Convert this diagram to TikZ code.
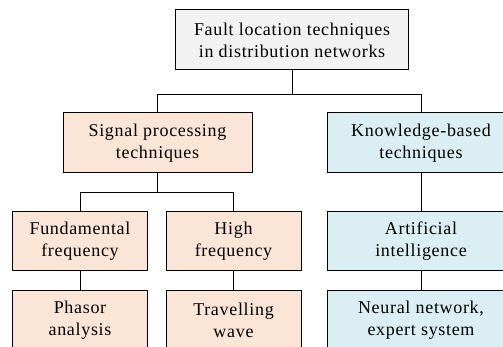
\documentclass[tikz,border=0pt]{standalone}
\usepackage{fontspec}
\setmainfont[LetterSpace=3.8]{Liberation Serif}
\usepackage{tikz}
\usetikzlibrary{positioning}
\definecolor{rootgray}{HTML}{F2F2F2}
\definecolor{sigorange}{HTML}{FBE5D6}
\definecolor{knowblue}{HTML}{DAEEF3}
\begin{document}
\begin{tikzpicture}[
    x=1pt, y=1pt,
    font=\fontsize{18}{22}\selectfont,
    box/.style={rectangle, draw=black, line width=1pt, align=center,
                inner sep=0pt, minimum height=60pt},
    root/.style={box, fill=rootgray, minimum width=233pt},
    sig/.style={box, fill=sigorange},
    know/.style={box, fill=knowblue, minimum width=188pt},
    wire/.style={line width=1pt}
]
\useasboundingbox (0,0) rectangle (503,-347);
\clip (0,0) rectangle (503,-347);
\node[root] (fl)  at (292,-40)    {Fault location techniques\\in distribution networks};
\node[sig, minimum width=189pt] (sp) at (157.5,-143) {Signal processing\\techniques};
\node[know]  (kb)  at (421,-143)  {Knowledge-based\\techniques};
\node[sig, minimum width=135pt, minimum height=59pt] (ff) at (80,-241.5)  {Fundamental\\frequency};
\node[sig, minimum width=135pt, minimum height=59pt] (hf) at (233.5,-241.5) {High\\frequency};
\node[know, minimum height=59pt] (ai) at (421,-241.5) {Artificial\\intelligence};
\node[sig, minimum width=135pt] (pa) at (80,-320)    {Phasor\\analysis};
\node[sig, minimum width=135pt] (tw) at (233.5,-320) {Travelling\\wave};
\node[know]  (nn)  at (421,-320)  {Neural network,\\expert system};
\draw[wire] (fl.south) -- ++(0,-24) -| (sp.north);
\draw[wire] (fl.south) -- ++(0,-24) -| (kb.north);
\draw[wire] (sp.south) -- ++(0,-19) -| (ff.north);
\draw[wire] (sp.south) -- ++(0,-19) -| (hf.north);
\draw[wire] (kb) -- (ai);
\draw[wire] (ff) -- (pa); \draw[wire] (hf) -- (tw);
\draw[wire] (ai) -- (nn);
\end{tikzpicture}
\end{document}
